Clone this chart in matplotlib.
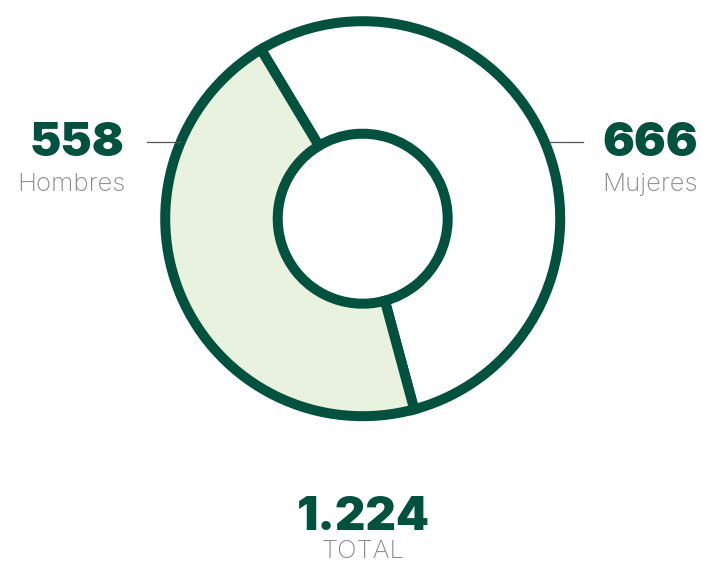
import matplotlib.pyplot as plt

# data
labels = ['Mujeres', 'Hombres']
values = [666, 558]
total_label = '1.224'
value_labels = ['666', '558']

DARK = '#00513d'
LIGHT = '#e9f1df'
GREY = '#8a8a8a'
LINE = '#555555'

W, H = 703, 563


def img_y(y):
    # reference measured in image pixels (y down) -> axes coords (y up)
    return H - y


fig = plt.figure(figsize=(W / 100, H / 100), dpi=100)
ax = fig.add_axes([0, 0, 1, 1])

cx, cy = 362.7, img_y(218.7)
r_out, r_in = 197.5, 85.0

ax.pie(values, colors=['white', LIGHT], startangle=121, counterclock=False,
       center=(cx, cy), radius=r_out,
       wedgeprops=dict(width=r_out - r_in, edgecolor=DARK, linewidth=7.2))

ax.set_xlim(0, W)
ax.set_ylim(0, H)
ax.set_aspect('equal')
ax.axis('off')

num_font = dict(family='Inter', weight='black', color=DARK, fontsize=34)
lab_font = dict(family='Inter', weight='light', color=GREY, fontsize=18.5)

# left label (Hombres)
ax.text(125, img_y(156), value_labels[1], ha='right', va='baseline', **num_font)
ax.text(125, img_y(191), labels[1], ha='right', va='baseline', **lab_font)
ax.plot([147, 180], [img_y(141.5), img_y(141.5)], color=LINE, lw=0.9)

# right label (Mujeres)
ax.text(602, img_y(156), value_labels[0], ha='left', va='baseline', **num_font)
ax.text(602, img_y(191), labels[0], ha='left', va='baseline', **lab_font)
ax.plot([549, 583], [img_y(141.5), img_y(141.5)], color=LINE, lw=0.9)

# total
ax.text(363, img_y(530), total_label, ha='center', va='baseline', **num_font)
ax.text(363, img_y(558.5), 'TOTAL', ha='center', va='baseline', **lab_font)

fig.savefig('out.png', dpi=100)
